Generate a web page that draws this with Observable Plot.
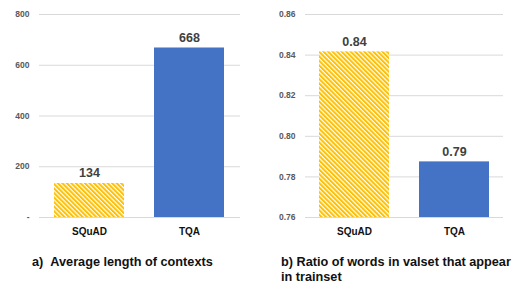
<!DOCTYPE html>
<html>
<head>
<meta charset="utf-8">
<script src="https://cdn.jsdelivr.net/npm/d3@7"></script>
<script src="https://cdn.jsdelivr.net/npm/@observablehq/plot@0.6"></script>
<style>
  html, body { margin: 0; padding: 0; background: #fff; }
  #wrap { position: relative; width: 515px; height: 282px; overflow: hidden; font-family: "Liberation Sans", Arial, sans-serif; }
  #charts { display: flex; flex-direction: row; }
  .cap { position: absolute; font-weight: bold; font-size: 12.7px; line-height: 14.5px; color: #111; white-space: nowrap; }
</style>
</head>
<body>
<div id="wrap">
  <svg width="0" height="0" style="position:absolute">
    <defs>
      <pattern id="stripes" patternUnits="userSpaceOnUse" width="3.2" height="3.2" patternTransform="rotate(-45)">
        <rect x="0" y="0" width="3.2" height="3.2" fill="#ffffff"></rect>
        <rect x="0" y="0" width="2" height="3.2" fill="#FFC000"></rect>
      </pattern>
    </defs>
  </svg>
  <div id="charts"></div>
  <div class="cap" id="capA" style="left:32px; top:255px;"></div>
  <div class="cap" id="capB" style="left:281px; top:255px;"></div>
</div>
<script>
// ---- data ----
const categories = ["SQuAD", "TQA"];
const lengthValues = [134, 668];
const ratioValues = [0.8416, 0.7874];
const lengthTicks = [0, 200, 400, 600, 800];
const ratioTicks = [0.76, 0.78, 0.80, 0.82, 0.84, 0.86];
const captionA = "a)\u00a0\u00a0Average length of contexts";
const captionB = ["b) Ratio of words in valset that appear", "in trainset"];

document.getElementById("capA").textContent = captionA;
document.getElementById("capB").innerHTML = captionB.join("<br>");

const fills = {SQuAD: "url(#stripes)", TQA: "#4472C4"};

function makeChart({values, ticks, domain, base, fmt, tickFmt, width, marginLeft, marginRight, paddingInner, paddingOuter}) {
  const data = categories.map((c, i) => ({cat: c, value: values[i]}));
  return Plot.plot({
    width, height: 240,
    marginTop: 14, marginBottom: 23, marginLeft, marginRight,
    style: {fontFamily: "Liberation Sans, Arial, sans-serif", background: "transparent", overflow: "visible"},
    x: {domain: categories, paddingInner, paddingOuter, label: null},
    y: {domain, label: null},
    marks: [
      Plot.gridY(ticks, {stroke: "#d9d9d9", strokeOpacity: 1, strokeWidth: 1}),
      Plot.axisY(ticks, {tickSize: 0, tickPadding: 10, tickFormat: tickFmt, fontSize: 8.5, fill: "#595959", fontWeight: "bold", label: null}),
      Plot.axisX({tickSize: 0, tickPadding: 10, fontSize: 10, fontWeight: "bold", fill: "#111", label: null}),
      ...categories.map(c => Plot.barY(data.filter(d => d.cat === c), {x: "cat", y1: base, y2: "value", fill: fills[c]})),
      Plot.text(data, {x: "cat", y: "value", text: d => fmt(d.value), dy: -10, fontSize: 12.5, fontWeight: "bold", fill: "#404040"})
    ]
  });
}

const left = makeChart({
  values: lengthValues, ticks: lengthTicks, domain: [0, 800], base: 0,
  fmt: d3.format("d"), tickFmt: d => d === 0 ? "-" : d3.format("d")(d),
  width: 257, marginLeft: 39, marginRight: 17, paddingInner: 0.297, paddingOuter: 0.144
});
const right = makeChart({
  values: ratioValues, ticks: ratioTicks, domain: [0.76, 0.86], base: 0.76,
  fmt: d3.format(".2f"), tickFmt: d3.format(".2f"),
  width: 258, marginLeft: 48, marginRight: 12, paddingInner: 0.3, paddingOuter: 0.14
});
document.getElementById("charts").append(left, right);
</script>
</body>
</html>
